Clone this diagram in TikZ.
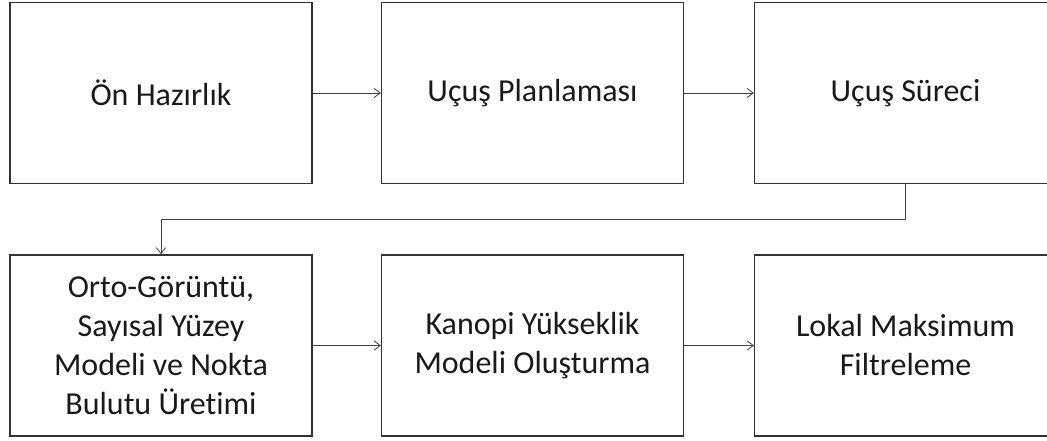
\documentclass[tikz,border=0pt]{standalone}
\usepackage{fontspec}
\setmainfont{Carlito}[Ligatures=NoCommon]
\usetikzlibrary{arrows.meta}
\begin{document}
\begin{tikzpicture}[x=1pt,y=-1pt,
  stage/.style={draw=black!80, line width=1.3pt, minimum width=302pt, minimum height=181pt,
    inner sep=0pt, align=center, font=\fontsize{32}{39}\selectfont, text=black!90},
  flow/.style={draw=black!75, line width=0.8pt, -{Straight Barb[length=6pt,width=9pt]}}]
\useasboundingbox (0,0) rectangle (1047,441);
\node[stage] (a) at (161,93) {Ön Hazırlık};
\node[stage] (b) at (532.5,93) {Uçuş Planlaması};
\node[stage] (c) at (905.5,93) {Uçuş Süreci};
\node[stage] (d) at (161,345.5) {Orto-Görüntü,\\Sayısal Yüzey\\Modeli ve Nokta\\Bulutu Üretimi};
\node[stage] (e) at (532.5,345.5) {Kanopi Yükseklik\\Modeli Oluşturma};
\node[stage] (f) at (905.5,345.5) {Lokal Maksimum\\Filtreleme};
\draw[flow] (a) -- (b);
\draw[flow] (b) -- (c);
\draw[flow] (c.south) -- ++(0,35) -| (d.north);
\draw[flow] (d) -- (e);
\draw[flow] (e) -- (f);
\end{tikzpicture}
\end{document}
